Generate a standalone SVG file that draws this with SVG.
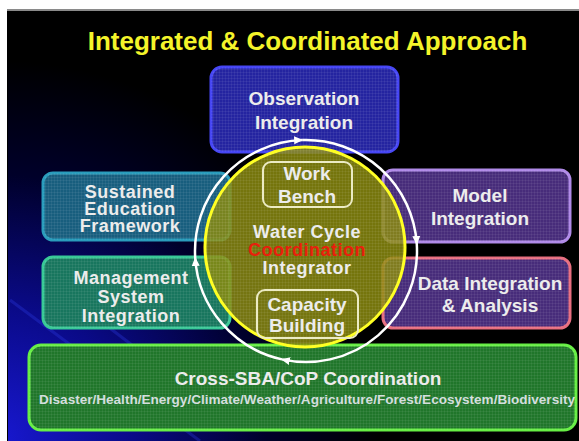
<svg xmlns="http://www.w3.org/2000/svg" width="579" height="441" viewBox="0 0 579 441">
<defs>
<style>
.t{font-family:"Liberation Sans",Arial,sans-serif;font-weight:bold;font-size:19px;fill:#ececec;text-anchor:middle}
.s{font-size:18px;letter-spacing:0.5px}
.box{stroke-width:3}
.grid{fill:url(#grid)}
.inner{fill:none;stroke:#ecebc4;stroke-width:2}
.ring{fill:none;stroke:#ffffff;stroke-width:2.5;marker-end:url(#ah)}
</style>
<pattern id="grid" width="3" height="3" patternUnits="userSpaceOnUse">
<path d="M0 0.5H3M0.5 0V3" stroke="#ffffff" stroke-opacity="0.06" stroke-width="1" fill="none"/>
</pattern>
<radialGradient id="bg" cx="0" cy="441" r="380" gradientUnits="userSpaceOnUse">
<stop offset="0" stop-color="#1818d0"/>
<stop offset="0.35" stop-color="#0a0a88"/>
<stop offset="0.7" stop-color="#00002a"/>
<stop offset="1" stop-color="#000000"/>
</radialGradient>
<marker id="ah" markerWidth="10" markerHeight="10" refX="8" refY="5" orient="auto" markerUnits="userSpaceOnUse">
<path d="M0 1L9 5L0 9Z" fill="#ffffff"/>
</marker>
</defs>
<rect width="579" height="441" fill="#ffffff"/>
<rect x="7" y="9" width="572" height="432" fill="#000000"/>
<rect x="7" y="9" width="572" height="2" fill="#8a8a8a"/>
<rect x="8" y="11" width="571" height="430" fill="url(#bg)"/>
<g stroke="#2a3ae0" stroke-opacity="0.35" stroke-width="3">
<line x1="10" y1="300" x2="200" y2="441"/>
<line x1="60" y1="290" x2="230" y2="420"/>
</g>
<text x="307.5" y="50" style="font-family:'Liberation Sans',Arial,sans-serif;font-weight:bold;font-size:26px;fill:#f4f42a;text-anchor:middle">Integrated &amp; Coordinated Approach</text>

<g id="obs">
<rect class="box" x="211" y="67" width="187" height="85" rx="11" fill="#2424a0" stroke="#4646f4"/>
<rect class="grid" x="211" y="67" width="187" height="85" rx="11"/>
<text class="t" x="304" y="105">Observation</text>
<text class="t" x="304" y="129">Integration</text>
</g>
<g id="sustained">
<rect class="box" x="43" y="173" width="187" height="67" rx="10" fill="#185e7e" stroke="#2a9cbc"/>
<rect class="grid" x="43" y="173" width="187" height="67" rx="10"/>
<text class="t s" x="130" y="198">Sustained</text>
<text class="t s" x="130" y="215">Education</text>
<text class="t s" x="130" y="232">Framework</text>
</g>
<g id="management">
<rect class="box" x="43" y="257" width="187" height="71" rx="10" fill="#18765e" stroke="#38c896"/>
<rect class="grid" x="43" y="257" width="187" height="71" rx="10"/>
<text class="t s" x="131" y="284">Management</text>
<text class="t s" x="131" y="303">System</text>
<text class="t s" x="131" y="322">Integration</text>
</g>
<g id="model">
<rect class="box" x="383" y="170" width="187" height="72" rx="10" fill="#472c7a" stroke="#b08ae8"/>
<rect class="grid" x="383" y="170" width="187" height="72" rx="10"/>
<text class="t" x="480" y="202">Model</text>
<text class="t" x="480" y="225">Integration</text>
</g>
<g id="data">
<rect class="box" x="383" y="258" width="187" height="70" rx="10" fill="#472c7a" stroke="#e86e80"/>
<rect class="grid" x="383" y="258" width="187" height="70" rx="10"/>
<text class="t" x="490" y="290">Data Integration</text>
<text class="t" x="490" y="312">&amp; Analysis</text>
</g>
<g id="cross">
<rect class="box" x="29" y="345" width="547" height="85" rx="12" fill="#20762a" stroke="#66ee44"/>
<rect class="grid" x="29" y="345" width="547" height="85" rx="12"/>
<text class="t" x="308" y="385">Cross-SBA/CoP Coordination</text>
<text x="307" y="404" textLength="536" lengthAdjust="spacingAndGlyphs" style="font-family:'Liberation Sans',Arial,sans-serif;font-weight:bold;font-size:12px;fill:#d4dede;text-anchor:middle">Disaster/Health/Energy/Climate/Weather/Agriculture/Forest/Ecosystem/Biodiversity</text>
</g>

<g id="integrator">
<circle cx="305" cy="247" r="100" fill="#8c8c0e" fill-opacity="0.84" stroke="#ffff20" stroke-width="3"/>
<circle cx="305" cy="247" r="100" class="grid"/>
</g>

<g id="connectors">
<path class="ring" d="M195.22 257.97A111 111 0 0 1 302.13 140.07"/>
<path class="ring" d="M302.13 140.07A111 111 0 0 1 416.78 244.03"/>
<path class="ring" d="M416.78 244.03A111 111 0 0 1 281.97 359.37"/>
<path class="ring" d="M281.97 359.37A111 111 0 0 1 195.22 257.97"/>
</g>

<g id="workbench">
<rect class="inner" x="263" y="162" width="89" height="45" rx="8"/>
<text class="t" x="307" y="180">Work</text>
<text class="t" x="307" y="203">Bench</text>
</g>
<g id="wcci">
<text class="t s" x="307" y="238">Water Cycle</text>
<text class="t s" x="307" y="256" style="fill:#e8200c">Coordination</text>
<text class="t s" x="307" y="274">Integrator</text>
</g>
<g id="capacity">
<rect class="inner" x="257" y="290" width="101" height="48" rx="8"/>
<text class="t" x="307" y="311">Capacity</text>
<text class="t" x="307" y="332">Building</text>
</g>
</svg>
